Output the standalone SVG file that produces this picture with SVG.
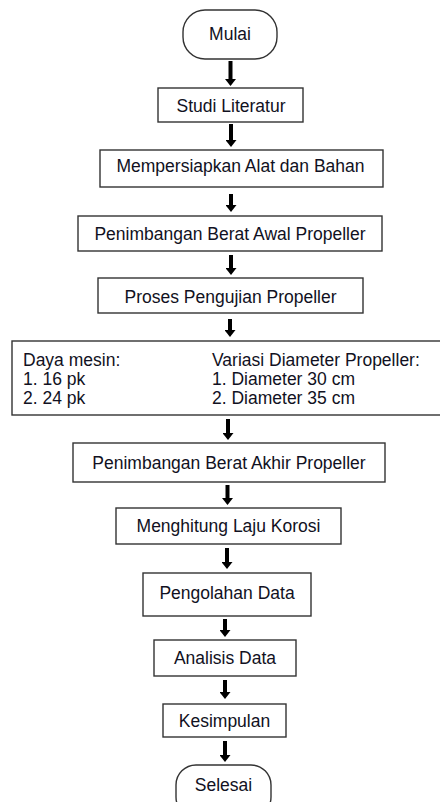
<svg xmlns="http://www.w3.org/2000/svg" width="440" height="802" viewBox="0 0 440 802">
<style>
.box{fill:#fff;stroke:#333;stroke-width:1.4}
.t{font-family:"Liberation Sans",Arial,sans-serif;font-size:17.5px;fill:#111122;text-anchor:middle}
.tl{font-family:"Liberation Sans",Arial,sans-serif;font-size:17.5px;fill:#111122}
.ar{stroke:#000;stroke-width:4;fill:none}
</style>
<defs>
<marker id="ah" markerUnits="userSpaceOnUse" viewBox="0 0 7 11" refX="1" refY="5.5" markerWidth="7" markerHeight="11" orient="auto">
<path d="M0,0 L7,5.5 L0,11 z" fill="#000"/>
</marker>
</defs>
<rect width="440" height="802" fill="#fff"/>
<g id="connectors">
<line class="ar" x1="230.5" y1="61" x2="230.5" y2="80" marker-end="url(#ah)"/>
<line class="ar" x1="231" y1="124" x2="231" y2="141" marker-end="url(#ah)"/>
<line class="ar" x1="231" y1="194" x2="231" y2="206" marker-end="url(#ah)"/>
<line class="ar" x1="231" y1="255" x2="231" y2="269" marker-end="url(#ah)"/>
<line class="ar" x1="230" y1="319" x2="230" y2="331" marker-end="url(#ah)"/>
<line class="ar" x1="228" y1="419" x2="228" y2="434" marker-end="url(#ah)"/>
<line class="ar" x1="227.5" y1="485" x2="227.5" y2="499" marker-end="url(#ah)"/>
<line class="ar" x1="227" y1="548" x2="227" y2="563" marker-end="url(#ah)"/>
<line class="ar" x1="225" y1="619" x2="225" y2="631" marker-end="url(#ah)"/>
<line class="ar" x1="225" y1="680" x2="225" y2="693" marker-end="url(#ah)"/>
<line class="ar" x1="225" y1="741" x2="225" y2="756" marker-end="url(#ah)"/>
</g>
<g id="mulai">
<rect class="box" x="183" y="10" width="94" height="49" rx="22"/>
<text class="t" x="230" y="40">Mulai</text>
</g>
<g id="studi">
<rect class="box" x="158" y="88" width="145" height="34"/>
<text class="t" x="231" y="111.5">Studi Literatur</text>
</g>
<g id="persiapan">
<rect class="box" x="100" y="150" width="283" height="37"/>
<text class="t" x="240.5" y="172">Mempersiapkan Alat dan Bahan</text>
</g>
<g id="timbang-awal">
<rect class="box" x="78" y="216" width="304" height="35"/>
<text class="t" x="230" y="240">Penimbangan Berat Awal Propeller</text>
</g>
<g id="pengujian">
<rect class="box" x="98" y="278" width="265" height="35"/>
<text class="t" x="230.5" y="302.5">Proses Pengujian Propeller</text>
</g>
<g id="variasi">
<rect class="box" x="12" y="341" width="432" height="74"/>
<text class="tl" x="23" y="366">Daya mesin:</text>
<text class="tl" x="23" y="385">1. 16 pk</text>
<text class="tl" x="23" y="404">2. 24 pk</text>
<text class="tl" x="212" y="366">Variasi Diameter Propeller:</text>
<text class="tl" x="212" y="385">1. Diameter 30 cm</text>
<text class="tl" x="212" y="404">2. Diameter 35 cm</text>
</g>
<g id="timbang-akhir">
<rect class="box" x="73" y="443" width="312" height="39"/>
<text class="t" x="229" y="468.5">Penimbangan Berat Akhir Propeller</text>
</g>
<g id="laju">
<rect class="box" x="116" y="508" width="225" height="36"/>
<text class="t" x="228.5" y="532">Menghitung Laju Korosi</text>
</g>
<g id="pengolahan">
<rect class="box" x="143" y="573" width="168" height="43"/>
<text class="t" x="227" y="599">Pengolahan Data</text>
</g>
<g id="analisis">
<rect class="box" x="154" y="640" width="142" height="36"/>
<text class="t" x="225" y="664">Analisis Data</text>
</g>
<g id="kesimpulan">
<rect class="box" x="163" y="704" width="123" height="33"/>
<text class="t" x="224.5" y="727">Kesimpulan</text>
</g>
<g id="selesai">
<rect class="box" x="176" y="765" width="95" height="52" rx="20"/>
<text class="t" x="223.5" y="791">Selesai</text>
</g>
</svg>
